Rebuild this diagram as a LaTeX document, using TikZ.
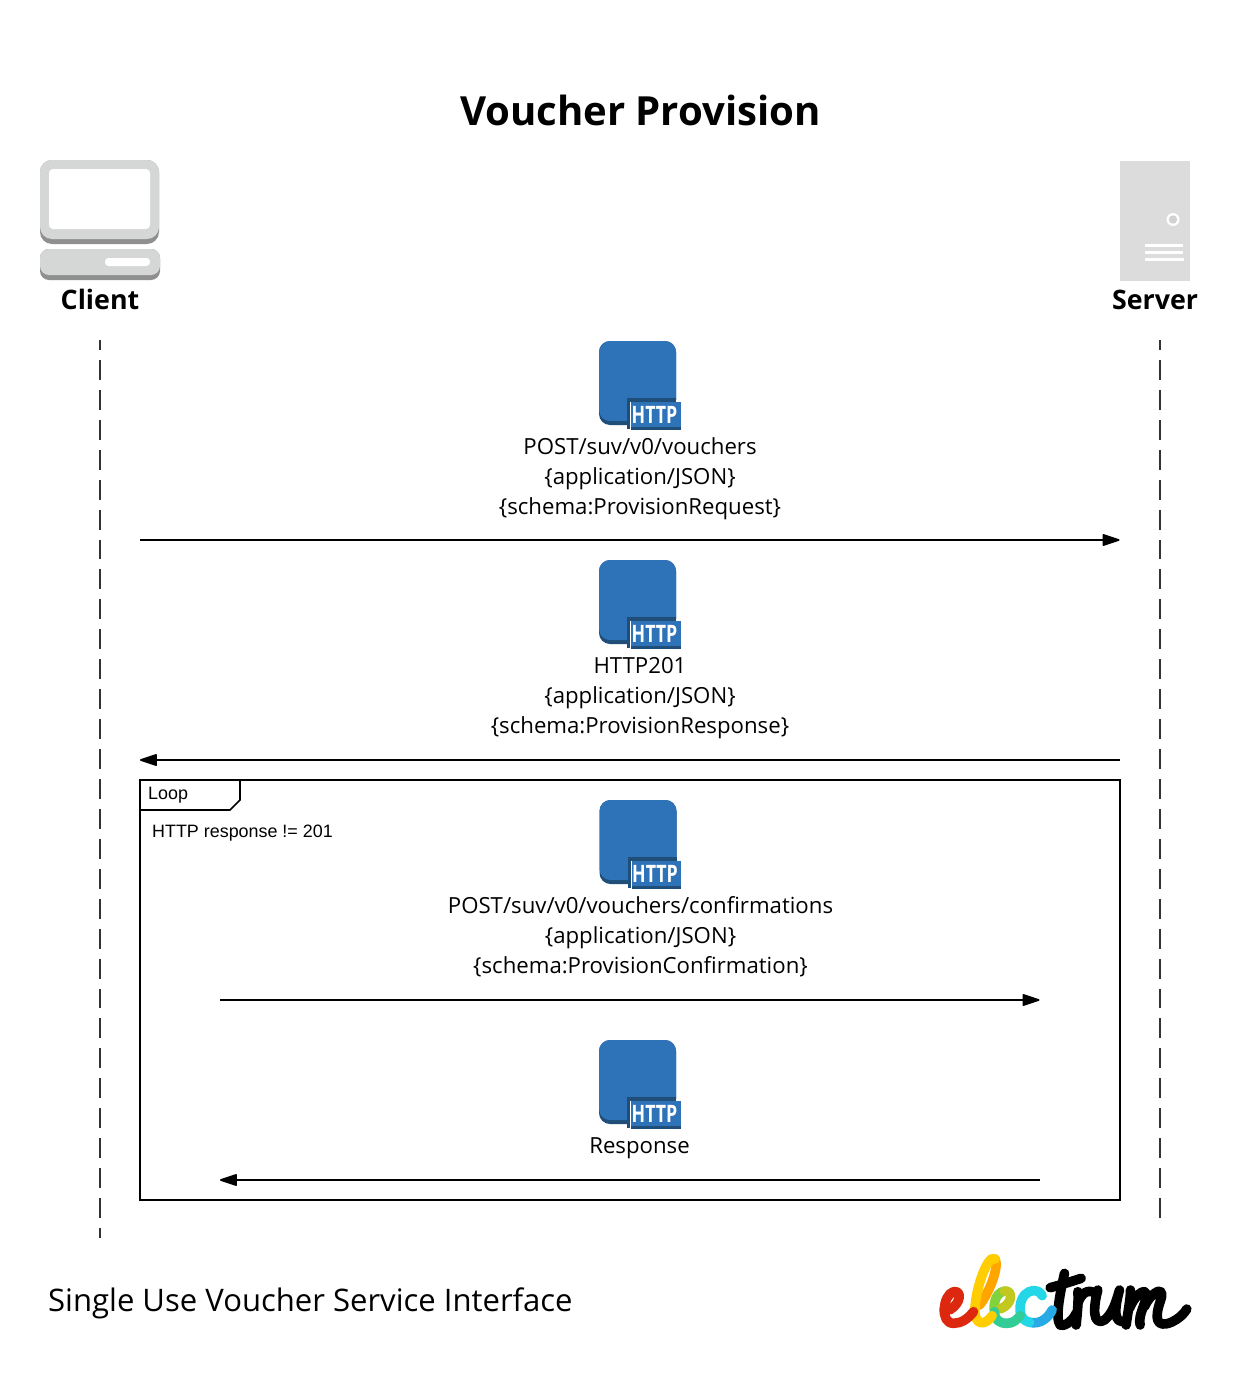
\documentclass[tikz,border=0pt]{standalone}
\usepackage{fontspec}
\setmainfont{Open Sans}
\newfontfamily\loopfont{Liberation Sans}
\usetikzlibrary{arrows.meta}
\definecolor{icolight}{HTML}{D5D7D7}
\definecolor{icodark}{HTML}{8F8F8F}
\definecolor{srvgrey}{HTML}{DCDCDC}
\definecolor{httpblue}{HTML}{2E73B8}
\definecolor{httpdark}{HTML}{1F4E79}
\tikzset{
  x=1pt,y=-1pt,
  lifeline/.style={draw=black!80,line width=2pt,dash pattern=on 19.95pt off 9.98pt,dash phase=9.97pt},
  message/.style={draw=black,line width=1.8pt,-{Triangle[length=19pt,width=12pt,round=false]}},
  msgtext/.style={align=center,inner sep=0pt,font=\fontsize{22.2}{30}\selectfont},
  actor/.style={inner sep=0pt,font=\fontsize{26.8}{32}\selectfont\bfseries},
  loopframe/.style={draw=black,line width=1.7pt},
  looptext/.style={inner sep=0pt,anchor=base west,font=\fontsize{17.9}{20}\selectfont\loopfont},
  pics/httpicon/.style={code={
    \fill[httpdark,rounded corners=11pt] (0,0) rectangle (77,84);
    \fill[httpblue,rounded corners=11pt] (0,0) rectangle (77,80);
    \fill[white] (28,59) rectangle (82,90);
    \fill[httpdark] (28,57) rectangle (77,61);
    \fill[httpdark] (28,57) rectangle (31,88);
    \fill[httpblue] (32,61) rectangle (81.5,86);
    \fill[httpdark] (32,86) rectangle (81.5,89);
    \node[inner sep=0pt,text=white,xscale=.74,font=\fontsize{24}{24}\selectfont\bfseries] at (55.5,73.5) {HTTP};
  }}
}
\begin{document}
\begin{tikzpicture}
\useasboundingbox (0,0) rectangle (1260,1400);
\fill[white] (0,0) rectangle (1260,1400);

\node[inner sep=0pt,font=\fontsize{40.1}{46}\selectfont\bfseries] (title) at (640.5,110) {Voucher Provision};

% client icon
\fill[icodark,rounded corners=12pt] (40,160) rectangle (159,244);
\fill[icolight,rounded corners=12pt] (40,160) rectangle (159,239);
\fill[white,rounded corners=4pt] (49,169) rectangle (150,229);
\fill[icodark,rounded corners=9pt] (40,249) rectangle (160,280);
\fill[icolight,rounded corners=9pt] (40,249) rectangle (160,275);
\fill[white,rounded corners=3.5pt] (105,258) rectangle (150,266);
\node[actor] (client) at (100,299) {Client};

% server icon
\fill[srvgrey] (1120,161) rectangle (1190,281);
\fill[white] (1173,219.5) circle[radius=6.5];
\fill[srvgrey!95!black] (1173,219.5) circle[radius=4.2];
\foreach \yy/\xe in {245/1183,252/1183,259/1184}
  \draw[white,line width=3pt] (1145,\yy) -- (\xe,\yy);
\node[actor] (server) at (1155,300) {Server};

% lifelines
\coordinate (cl1) at (100,340);
\coordinate (cl2) at (100,1238);
\coordinate (sl1) at (1160,340);
\coordinate (sl2) at (1160,1220);
\draw[lifeline] (cl1) -- (cl2);
\draw[lifeline] (sl1) -- (sl2);

% http icons
\pic at (599,341) {httpicon};
\pic at (599,560) {httpicon};
\pic at (599.5,800) {httpicon};
\pic at (599,1040) {httpicon};

% messages
\node[msgtext] (m1) at (640,479) {POST/suv/v0/vouchers\\\{application/JSON\}\\\{schema:ProvisionRequest\}};
\node[msgtext] (m2) at (640,698) {HTTP201\\\{application/JSON\}\\\{schema:ProvisionResponse\}};
\node[msgtext] (m3) at (640.5,937) {POST/suv/v0/vouchers/confirmations\\\{application/JSON\}\\\{schema:ProvisionConfirmation\}};
\node[msgtext] (m4) at (639.5,1148) {Response};

\coordinate (a1s) at (140,540); \coordinate (a1e) at (1119.5,540);
\coordinate (a2s) at (1120,760); \coordinate (a2e) at (140,760);
\coordinate (a3s) at (220,1000); \coordinate (a3e) at (1039.5,1000);
\coordinate (a4s) at (1040,1180); \coordinate (a4e) at (220,1180);
\draw[message] (a1s) -- (a1e);
\draw[message] (a2s) -- (a2e);
\draw[message] (a3s) -- (a3e);
\draw[message] (a4s) -- (a4e);

% loop frame
\draw[loopframe] (140,780) rectangle (1120,1200);
\draw[loopframe] (140,810) -- (230,810) -- (240,800) -- (240,780);
\node[looptext] (looplabel) at (148,799) {Loop};
\node[looptext] (loopcond) at (152,837) {HTTP response != 201};

% footer
\node[inner sep=0pt,anchor=base west,font=\fontsize{31.05}{36}\selectfont] (footer) at (48,1311.5) {Single Use Voucher Service Interface};

% logo
\begin{scope}[shift={(929.5,1245)},x=0.3333pt,y=-0.3333pt]
\tikzset{logostroke/.style={line width=9.6pt,line cap=round,line join=round}}
\draw[logostroke,draw=black] (405,85) .. controls (395,130) and (375,220) .. (392,240) .. controls (400,245) and (425,235) .. (440,205);
\draw[logostroke,draw=black] (362,128) .. controls (400,118) and (430,108) .. (455,100);
\draw[logostroke,draw=black] (445,140) .. controls (448,170) and (442,215) .. (440,240);
\draw[logostroke,draw=black] (445,175) .. controls (455,145) and (475,130) .. (497,145);
\draw[logostroke,draw=black] (505,135) .. controls (490,190) and (490,245) .. (525,225) .. controls (550,205) and (560,170) .. (570,135) .. controls (555,190) and (550,240) .. (590,228);
\draw[logostroke,draw=black] (603,135) .. controls (603,165) and (595,200) .. (590,240);
\draw[logostroke,draw=black] (600,190) .. controls (620,140) and (665,115) .. (645,175) .. controls (632,210) and (628,225) .. (632,240);
\draw[logostroke,draw=black] (645,185) .. controls (665,140) and (712,115) .. (692,170) .. controls (675,220) and (680,250) .. (725,232) .. controls (750,220) and (765,205) .. (772,192);
% c
\draw[logostroke,draw={rgb,255:red,40;green,170;blue,230}] (300,232) .. controls (335,240) and (358,215) .. (368,195);
\draw[logostroke,draw={rgb,255:red,35;green,215;blue,230}] (338,152) .. controls (325,128) and (300,135) .. (285,150) .. controls (265,175) and (265,225) .. (300,232);
% e green
\draw[logostroke,draw={rgb,255:red,130;green,210;blue,60}] (225,138) .. controls (195,145) and (192,180) .. (195,200);
\draw[logostroke,draw={rgb,255:red,195;green,200;blue,30}] (212,192) .. controls (250,178) and (252,135) .. (225,138);
\draw[logostroke,draw={rgb,255:red,50;green,205;blue,150}] (195,200) .. controls (195,225) and (210,235) .. (232,235) .. controls (250,235) and (262,225) .. (272,212);
% l
\draw[logostroke,draw={rgb,255:red,255;green,165;blue,0}] (150,180) .. controls (175,150) and (210,70) .. (197,42);
\draw[logostroke,draw={rgb,255:red,255;green,205;blue,0}] (197,42) .. controls (175,25) and (138,130) .. (136,195) .. controls (135,240) and (165,245) .. (188,212);
% e red
\draw[logostroke,draw={rgb,255:red,220;green,40;blue,15}] (60,195) .. controls (95,175) and (98,135) .. (72,140) .. controls (40,150) and (30,235) .. (72,235) .. controls (95,235) and (115,222) .. (132,200);
\end{scope}
\end{tikzpicture}
\end{document}
